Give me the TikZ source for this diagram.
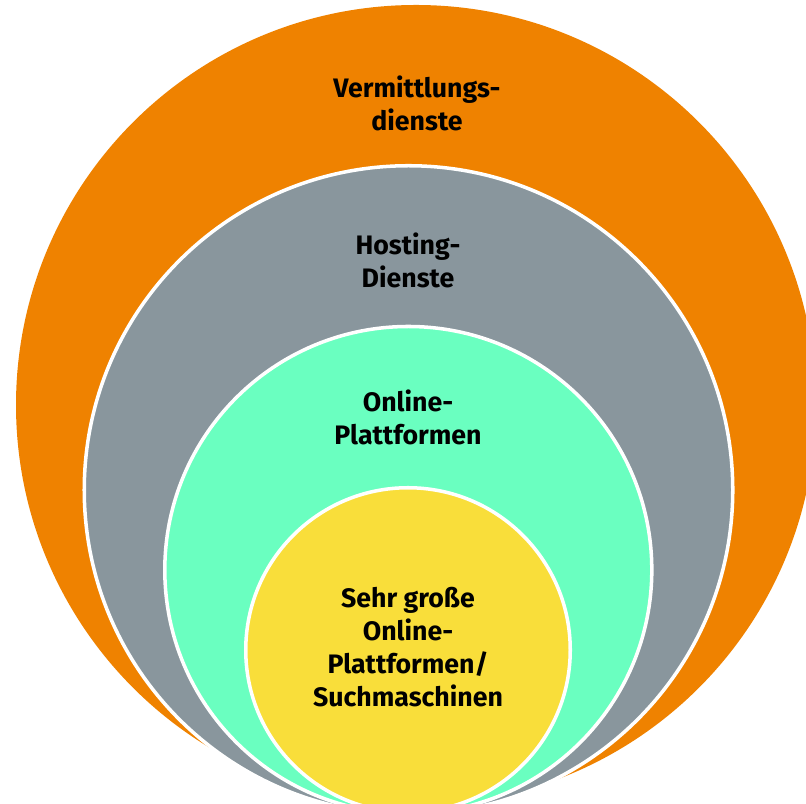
\documentclass[tikz,border=0pt]{standalone}
\usepackage{fontspec}
\setmainfont{Fira Sans}
\definecolor{vermorange}{RGB}{239,130,0}
\definecolor{hostgray}{RGB}{137,150,157}
\definecolor{platgreen}{RGB}{106,255,192}
\definecolor{vlopyellow}{RGB}{249,222,58}
\tikzset{
  ring/.style={draw=white, line width=2pt},
  ringtext/.style={font=\bfseries\fontsize{15.2}{18.8}\selectfont, align=center, text=black}
}
\begin{document}
\begin{tikzpicture}
	\useasboundingbox (0,0) rectangle (16.12,16.06);
	\clip (0,0) rectangle (16.12,16.06);
	% nested circles, all meeting near the bottom
	\fill[vermorange] (8.32,7.96) circle (8.0);
	\draw[ring, fill=hostgray] (8.17,6.26) circle (6.485);
	\draw[ring, fill=platgreen] (8.166,4.66) circle (4.87);
	\draw[ring, fill=vlopyellow] (8.16,3.06) circle (3.245);
	% labels
	\node[ringtext] (verm) at (8.34,14.0) {Vermittlungs-\\dienste};
	\node[ringtext] (host) at (8.16,10.86) {Hosting-\\Dienste};
	\node[ringtext] (plat) at (8.16,7.72) {Online-\\Plattformen};
	\node[ringtext] (vlop) at (8.16,3.12) {Sehr große\\Online-\\Plattformen/\\Suchmaschinen};
\end{tikzpicture}
\end{document}
